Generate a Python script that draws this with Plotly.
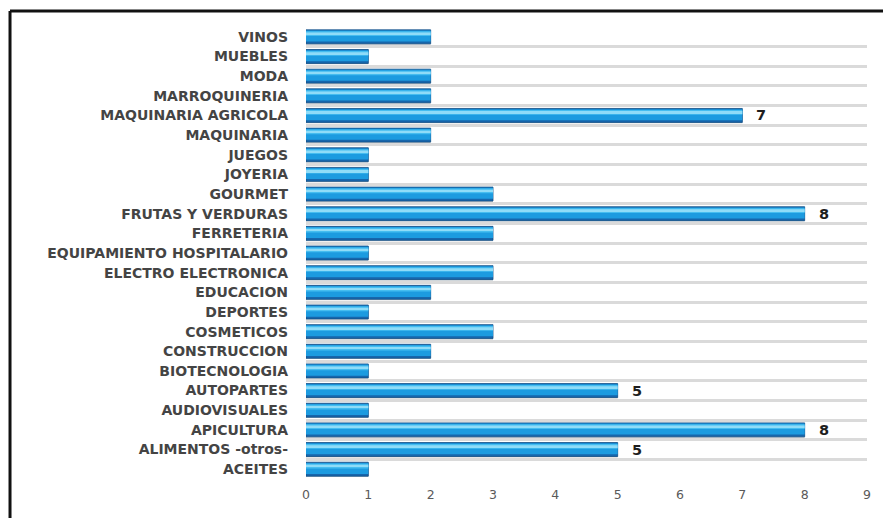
import plotly.graph_objects as go

# Sectors, listed bottom to top
sectores = [
    "ACEITES", "ALIMENTOS -otros-", "APICULTURA", "AUDIOVISUALES", "AUTOPARTES",
    "BIOTECNOLOGIA", "CONSTRUCCION", "COSMETICOS", "DEPORTES", "EDUCACION",
    "ELECTRO ELECTRONICA", "EQUIPAMIENTO HOSPITALARIO", "FERRETERIA",
    "FRUTAS Y VERDURAS", "GOURMET", "JOYERIA", "JUEGOS", "MAQUINARIA",
    "MAQUINARIA AGRICOLA", "MARROQUINERIA", "MODA", "MUEBLES", "VINOS",
]
cantidades = [1, 5, 8, 1, 5, 1, 2, 3, 1, 2, 3, 1, 3, 8, 3, 1, 1, 2, 7, 2, 2, 1, 2]
x_ticks = [0, 1, 2, 3, 4, 5, 6, 7, 8, 9]
umbral_etiqueta = 5  # only the larger values carry a label

fig = go.Figure()

# Layered bars give the glossy, gradient look of each bar
capas = [
    # (offset, width, colour, line colour, line width)
    (-0.40, 0.72, "rgba(140,140,140,0.45)", "rgba(0,0,0,0)", 0),   # soft shadow
    (-0.355, 0.71, "#1666AC", "#124F86", 0.8),                     # dark base
    (-0.24, 0.56, "#1C9BE0", "rgba(0,0,0,0)", 0),                  # body
    (0.04, 0.24, "#45BDF0", "rgba(0,0,0,0)", 0),                   # upper glow
    (0.12, 0.10, "#8FDCF8", "rgba(0,0,0,0)", 0),                   # highlight
]
for off, w, col, lcol, lw in capas:
    fig.add_trace(go.Bar(
        x=cantidades, y=sectores, orientation="h",
        offset=off, width=w,
        marker=dict(color=col, line=dict(color=lcol, width=lw)),
        hoverinfo="skip", showlegend=False,
    ))

for s, v in zip(sectores, cantidades):
    if v >= umbral_etiqueta:
        fig.add_annotation(
            x=v, y=s, xref="x", yref="y", text=f"<b>{v}</b>",
            showarrow=False, xanchor="left", xshift=12,
            font=dict(family="DejaVu Sans", size=14.5, color="#1E1E1E"),
        )

# Frame around the chart (left and top edges fall inside the picture)
borde_x = -0.5276
borde_y = 1.0354
fig.add_shape(type="line", xref="paper", yref="paper",
              x0=borde_x, x1=borde_x, y0=-0.2, y1=borde_y,
              line=dict(color="#111111", width=3))
fig.add_shape(type="line", xref="paper", yref="paper",
              x0=borde_x, x1=1.2, y0=borde_y, y1=borde_y,
              line=dict(color="#111111", width=3))

fig.update_layout(
    width=883, height=518,
    margin=dict(l=306, r=16, t=27, b=39),
    paper_bgcolor="white", plot_bgcolor="white",
    barmode="overlay", bargap=0.29,
    xaxis=dict(
        range=[0, 9], tickvals=x_ticks, ticktext=[str(t) for t in x_ticks],
        showgrid=False, zeroline=False, showline=False, ticks="",
        tickfont=dict(family="DejaVu Sans", size=12.5, color="#5A5A5A"),
        ticklabelstandoff=6, fixedrange=True,
    ),
    yaxis=dict(
        type="category", categoryorder="array", categoryarray=sectores,
        tickson="boundaries", showgrid=True, gridcolor="#DADADA", gridwidth=3,
        zeroline=False, showline=False, ticks="",
        tickfont=dict(family="DejaVu Sans", size=14, color="#444444",
                      weight="bold"),
        ticklabelstandoff=17, fixedrange=True,
    ),
)

fig.write_html("out.html")
